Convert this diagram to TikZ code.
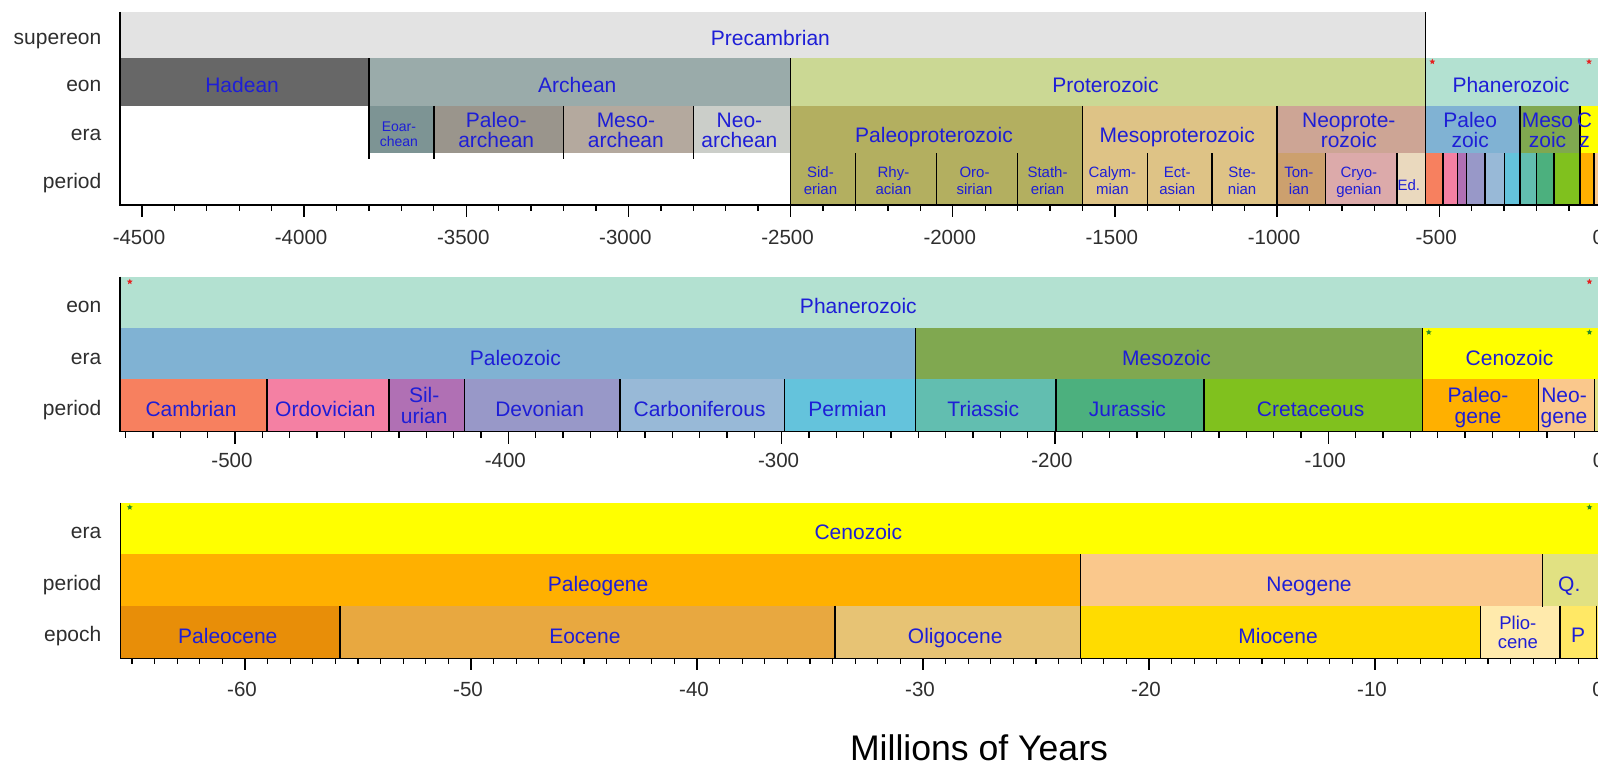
\documentclass[tikz,border=0pt]{standalone}
\usepackage{fontspec}
\setmainfont{Liberation Sans}
\usetikzlibrary{shapes.geometric}
\definecolor{cPrecam}{HTML}{E3E3E3}
\definecolor{cHadean}{HTML}{676767}
\definecolor{cArchean}{HTML}{9AABAA}
\definecolor{cProtero}{HTML}{CBD894}
\definecolor{cPhanero}{HTML}{B3E1D1}
\definecolor{cEoarch}{HTML}{7D9494}
\definecolor{cPaleoarch}{HTML}{9A958C}
\definecolor{cMesoarch}{HTML}{B4A99E}
\definecolor{cNeoarch}{HTML}{CBCEC9}
\definecolor{cPaleoprot}{HTML}{B3AF60}
\definecolor{cMesoprot}{HTML}{DEC386}
\definecolor{cNeoprot}{HTML}{CDA595}
\definecolor{cTonian}{HTML}{CCA06E}
\definecolor{cCryo}{HTML}{DCAAAA}
\definecolor{cEdia}{HTML}{EAD9BE}
\definecolor{cPaleozoic}{HTML}{80B2D3}
\definecolor{cMesozoic}{HTML}{80A850}
\definecolor{cCenozoic}{HTML}{FFFF00}
\definecolor{cCamb}{HTML}{F7805F}
\definecolor{cOrdo}{HTML}{F480A3}
\definecolor{cSilu}{HTML}{B070B4}
\definecolor{cDevo}{HTML}{9898C8}
\definecolor{cCarb}{HTML}{98B9D7}
\definecolor{cPerm}{HTML}{64C3DC}
\definecolor{cTria}{HTML}{62BEB0}
\definecolor{cJura}{HTML}{4CB07E}
\definecolor{cCret}{HTML}{80C11E}
\definecolor{cPaleog}{HTML}{FFB000}
\definecolor{cNeog}{HTML}{FAC88C}
\definecolor{cQuat}{HTML}{E1E182}
\definecolor{cPaleoc}{HTML}{E88E08}
\definecolor{cEoc}{HTML}{E8A840}
\definecolor{cOligo}{HTML}{E7C374}
\definecolor{cMioc}{HTML}{FFDC00}
\definecolor{cPlioc}{HTML}{FFEAAC}
\definecolor{cPleis}{HTML}{FFE865}
\definecolor{labblue}{HTML}{1E1ED6}
\definecolor{axgray}{HTML}{2E2E2E}
\definecolor{starred}{HTML}{E62020}
\definecolor{stargreen}{HTML}{2A8A2A}
\newcommand\tsfill[5]{\fill[#5] (#1,#3) rectangle (#2,#4);}
\newcommand\tsline[3]{\draw[bline] (#1,#2) -- (#1,#3);}
\newcommand\twolab[7]{\node[#1] (#2a) at (#3,#4) {#6}; \node[#1] (#2b) at (#3,#5) {#7};}
\tikzset{
  lab/.style={text=labblue, font=\fontsize{21}{21}\selectfont, inner sep=0pt, anchor=base, xshift=-2.5pt},
  smalllab/.style={lab, font=\fontsize{15}{15}\selectfont},
  tinylab/.style={lab, font=\fontsize{14}{14}\selectfont},
  midlab/.style={lab, font=\fontsize{18.5}{18.5}\selectfont},
  rowlab/.style={text=axgray, font=\fontsize{21}{21}\selectfont, inner sep=0pt, anchor=base east},
  ticklab/.style={text=axgray, font=\fontsize{20.5}{20.5}\selectfont, inner sep=0pt, anchor=base, xshift=-3pt},
  bline/.style={line width=1.5pt, black},
  tickl/.style={line width=1.3pt, black},
  redstar/.style={star, star points=5, star point ratio=2.2, fill=starred, minimum size=6pt, inner sep=0pt},
  greenstar/.style={star, star points=5, star point ratio=2.2, fill=stargreen, minimum size=6pt, inner sep=0pt}
}
\begin{document}
\begin{tikzpicture}[x=1pt, y=-1pt]
\useasboundingbox (0,0) rectangle (1598,765);
\fill[white] (0,0) rectangle (1598,765);
\clip (0,0) rectangle (1598,765);

% ================= Panel A =================
\begin{scope}[xshift=1601.3pt, x=0.3243pt]
\tsfill{-4567}{-542}{12}{58.5}{cPrecam}
\tsfill{-4567}{-3800}{58.5}{106}{cHadean}
\tsfill{-3800}{-2500}{58.5}{106}{cArchean}
\tsfill{-2500}{-542}{58.5}{106}{cProtero}
\tsfill{-542}{30}{58.5}{106}{cPhanero}
\tsfill{-3800}{-3600}{106}{153.3}{cEoarch}
\tsfill{-3600}{-3200}{106}{153.3}{cPaleoarch}
\tsfill{-3200}{-2800}{106}{153.3}{cMesoarch}
\tsfill{-2800}{-2500}{106}{153.3}{cNeoarch}
\tsfill{-2500}{-1600}{106}{205}{cPaleoprot}
\tsfill{-1600}{-1000}{106}{205}{cMesoprot}
\tsfill{-1000}{-542}{106}{153.3}{cNeoprot}
\tsfill{-542}{-251}{106}{153.3}{cPaleozoic}
\tsfill{-251}{-65.5}{106}{153.3}{cMesozoic}
\tsfill{-65.5}{30}{106}{153.3}{cCenozoic}
\tsfill{-1000}{-850}{153.3}{205}{cTonian}
\tsfill{-850}{-630}{153.3}{205}{cCryo}
\tsfill{-630}{-542}{153.3}{205}{cEdia}
\tsfill{-542}{-488.3}{153.3}{205}{cCamb}
\tsfill{-488.3}{-443.7}{153.3}{205}{cOrdo}
\tsfill{-443.7}{-416}{153.3}{205}{cSilu}
\tsfill{-416}{-359.2}{153.3}{205}{cDevo}
\tsfill{-359.2}{-299}{153.3}{205}{cCarb}
\tsfill{-299}{-251}{153.3}{205}{cPerm}
\tsfill{-251}{-199.6}{153.3}{205}{cTria}
\tsfill{-199.6}{-145.5}{153.3}{205}{cJura}
\tsfill{-145.5}{-65.5}{153.3}{205}{cCret}
\tsfill{-65.5}{-23.03}{153.3}{205}{cPaleog}
\tsfill{-23.03}{-2.588}{153.3}{205}{cNeog}
\tsfill{-2.588}{30}{153.3}{205}{cQuat}
% boundary lines
\tsline{-3800}{58.5}{159.3}
\foreach \bv in {-3600,-3200,-2800} {\tsline{\bv}{106}{159.3}}
\tsline{-2500}{58.5}{205}
\tsline{-1600}{106}{205}
\tsline{-1000}{106}{205}
\tsline{-542}{12}{205}
\foreach \bv in {-2300,-2050,-1800,-1400,-1200,-850,-630} {\tsline{\bv}{153.3}{205}}
\tsline{-251}{106}{205}
\tsline{-65.5}{106}{205}
\foreach \bv in {-488.3,-443.7,-416,-359.2,-299,-199.6,-145.5,-23.03,-2.588} {\tsline{\bv}{153.3}{205}}
% axes
\draw[bline] (-4567,12) -- (-4567,205) -- (30,205);
\foreach \tv in {-4500,-4400,...,0} {\draw[tickl] (\tv,205) -- (\tv,211);}
\foreach \tv in {-4500,-4000,...,0} {\draw[tickl] (\tv,205) -- (\tv,217);}
\foreach \tv in {-4500,-4000,...,0} {\node[ticklab] (tA\tv) at (\tv,244) {\tv};}
% labels
\node[lab] (precam) at (-2554.5,46) {Precambrian};
\node[lab] (hadeanA) at (-4183.5,92.8) {Hadean};
\node[lab] (archeanA) at (-3150,92.8) {Archean};
\node[lab] (proteroA) at (-1521,92.8) {Proterozoic};
\node[lab] (phaneroA) at (-271,92.8) {Phanerozoic};
\twolab{tinylab}{eoarch}{-3700}{131.5}{146.5}{Eoar-}{chean}
\twolab{lab}{paleoarch}{-3400}{128}{148}{Paleo-}{archean}
\twolab{lab}{mesoarch}{-3000}{128}{148}{Meso-}{archean}
\twolab{lab}{neoarch}{-2650}{128}{148}{Neo-}{archean}
\node[lab] (paleoprot) at (-2050,142.5) {Paleoproterozoic};
\node[lab] (mesoprot) at (-1300,142.5) {Mesoproterozoic};
\twolab{lab}{neoprot}{-771}{128}{148}{Neoprote-}{rozoic}
\twolab{lab}{paleozA}{-396.5}{128}{148}{Paleo}{zoic}
\twolab{lab}{mesozA}{-158.25}{128}{148}{Meso}{zoic}
\twolab{lab}{cenozA}{-44}{128}{148}{C}{z}
\twolab{smalllab}{sider}{-2400}{177}{194.5}{Sid-}{erian}
\twolab{smalllab}{rhyac}{-2175}{177}{194.5}{Rhy-}{acian}
\twolab{smalllab}{orosi}{-1925}{177}{194.5}{Oro-}{sirian}
\twolab{smalllab}{stath}{-1700}{177}{194.5}{Stath-}{erian}
\twolab{smalllab}{calym}{-1500}{177}{194.5}{Calym-}{mian}
\twolab{smalllab}{ectas}{-1300}{177}{194.5}{Ect-}{asian}
\twolab{smalllab}{steni}{-1100}{177}{194.5}{Ste-}{nian}
\twolab{smalllab}{tonia}{-925}{177}{194.5}{Ton-}{ian}
\twolab{smalllab}{cryog}{-740}{177}{194.5}{Cryo-}{genian}
\node[smalllab] (edia) at (-586,190) {Ed.};
\end{scope}

% ================= Panel B =================
\begin{scope}[xshift=1601.5pt, x=2.733pt]
\tsfill{-542}{5}{276.7}{328.3}{cPhanero}
\tsfill{-542}{-251}{328.3}{379.3}{cPaleozoic}
\tsfill{-251}{-65.5}{328.3}{379.3}{cMesozoic}
\tsfill{-65.5}{5}{328.3}{379.3}{cCenozoic}
\tsfill{-542}{-488.3}{379.3}{431.7}{cCamb}
\tsfill{-488.3}{-443.7}{379.3}{431.7}{cOrdo}
\tsfill{-443.7}{-416}{379.3}{431.7}{cSilu}
\tsfill{-416}{-359.2}{379.3}{431.7}{cDevo}
\tsfill{-359.2}{-299}{379.3}{431.7}{cCarb}
\tsfill{-299}{-251}{379.3}{431.7}{cPerm}
\tsfill{-251}{-199.6}{379.3}{431.7}{cTria}
\tsfill{-199.6}{-145.5}{379.3}{431.7}{cJura}
\tsfill{-145.5}{-65.5}{379.3}{431.7}{cCret}
\tsfill{-65.5}{-23.03}{379.3}{431.7}{cPaleog}
\tsfill{-23.03}{-2.588}{379.3}{431.7}{cNeog}
\tsfill{-2.588}{5}{379.3}{431.7}{cQuat}
\tsline{-251}{328.3}{431.7}
\tsline{-65.5}{328.3}{431.7}
\foreach \bv in {-488.3,-443.7,-416,-359.2,-299,-199.6,-145.5,-23.03,-2.588} {\tsline{\bv}{379.3}{431.7}}
\draw[bline] (-542,276.7) -- (-542,431.7) -- (5,431.7);
\foreach \tv in {-540,-530,...,0} {\draw[tickl] (\tv,431.7) -- (\tv,437.7);}
\foreach \tv in {-500,-400,...,0} {\draw[tickl] (\tv,431.7) -- (\tv,443.7);}
\foreach \tv in {-500,-400,...,0} {\node[ticklab] (tB\tv) at (\tv,467.5) {\tv};}
\node[lab] (phaneroB) at (-271,313) {Phanerozoic};
\node[lab] (paleozB) at (-396.5,365.5) {Paleozoic};
\node[lab] (mesozB) at (-158.25,365.5) {Mesozoic};
\node[lab] (cenozB) at (-32.75,365.5) {Cenozoic};
\node[lab] (camb) at (-515.15,416) {Cambrian};
\node[lab] (ordo) at (-466,416) {Ordovician};
\twolab{lab}{silu}{-429.85}{402}{423}{Sil-}{urian}
\node[lab] (devo) at (-387.6,416) {Devonian};
\node[lab] (carb) at (-329.1,416) {Carboniferous};
\node[lab] (perm) at (-275,416) {Permian};
\node[lab] (tria) at (-225.3,416) {Triassic};
\node[lab] (jura) at (-172.55,416) {Jurassic};
\node[lab] (cret) at (-105.5,416) {Cretaceous};
\twolab{lab}{paleogB}{-44.27}{402}{423}{Paleo-}{gene}
\twolab{lab}{neogB}{-12.81}{402}{423}{Neo-}{gene}
\end{scope}

% ================= Panel C =================
\begin{scope}[xshift=1601pt, x=22.6pt]
\tsfill{-65.5}{1}{502.7}{554}{cCenozoic}
\tsfill{-65.5}{-23.03}{554}{605.7}{cPaleog}
\tsfill{-23.03}{-2.588}{554}{605.7}{cNeog}
\tsfill{-2.588}{1}{554}{605.7}{cQuat}
\tsfill{-65.5}{-55.8}{605.7}{658.3}{cPaleoc}
\tsfill{-55.8}{-33.9}{605.7}{658.3}{cEoc}
\tsfill{-33.9}{-23.03}{605.7}{658.3}{cOligo}
\tsfill{-23.03}{-5.332}{605.7}{658.3}{cMioc}
\tsfill{-5.332}{-1.806}{605.7}{658.3}{cPlioc}
\tsfill{-1.806}{1}{605.7}{658.3}{cPleis}
\tsline{-23.03}{554}{658.3}
\tsline{-2.588}{554}{606.7}
\foreach \bv in {-55.8,-33.9,-5.332,-1.806,-0.2} {\tsline{\bv}{605.7}{658.3}}
\draw[bline] (-65.5,502.7) -- (-65.5,658.3) -- (1,658.3);
\foreach \tv in {-65,-64,...,0} {\draw[tickl] (\tv,658.3) -- (\tv,664.3);}
\foreach \tv in {-60,-50,...,0} {\draw[tickl] (\tv,658.3) -- (\tv,670.3);}
\foreach \tv in {-60,-50,...,0} {\node[ticklab] (tC\tv) at (\tv,696) {\tv};}
\node[lab] (cenozC) at (-32.75,539.5) {Cenozoic};
\node[lab] (paleogC) at (-44.265,591) {Paleogene};
\node[lab] (neogC) at (-12.81,591) {Neogene};
\node[lab] (quatC) at (-1.294,591) {Q.};
\node[lab] (paleoc) at (-60.65,643) {Paleocene};
\node[lab] (eoc) at (-44.85,643) {Eocene};
\node[lab] (oligo) at (-28.465,643) {Oligocene};
\node[lab] (mioc) at (-14.18,643) {Miocene};
\twolab{midlab}{plioc}{-3.569}{629.5}{648}{Plio-}{cene}
\node[lab] (pleis) at (-0.9,642.5) {P};
\end{scope}

% row labels
\node[rowlab] (rA1) at (101.5,45) {supereon};
\node[rowlab] (rA2) at (101.5,91.5) {eon};
\node[rowlab] (rA3) at (101.5,140.5) {era};
\node[rowlab] (rA4) at (101.5,188) {period};
\node[rowlab] (rB1) at (101.5,312) {eon};
\node[rowlab] (rB2) at (101.5,364) {era};
\node[rowlab] (rB3) at (101.5,415) {period};
\node[rowlab] (rC1) at (101.5,538.5) {era};
\node[rowlab] (rC2) at (101.5,590) {period};
\node[rowlab] (rC3) at (101.5,641.5) {epoch};

% stars
\node[redstar] (sA1) at (1432.3,61.7) {};
\node[redstar] (sA2) at (1589,61.7) {};
\node[redstar] (sB1) at (129.8,281.7) {};
\node[redstar] (sB2) at (1589.4,281.7) {};
\node[greenstar] (sB3) at (1428.8,332.3) {};
\node[greenstar] (sB4) at (1589.4,332.3) {};
\node[greenstar] (sC1) at (129.8,507.3) {};
\node[greenstar] (sC2) at (1589.4,507.3) {};

% axis title
\node[font=\fontsize{35.6}{36}\selectfont, text=black, inner sep=0pt, anchor=base] (title) at (979,760) {Millions of Years};
\end{tikzpicture}
\end{document}
